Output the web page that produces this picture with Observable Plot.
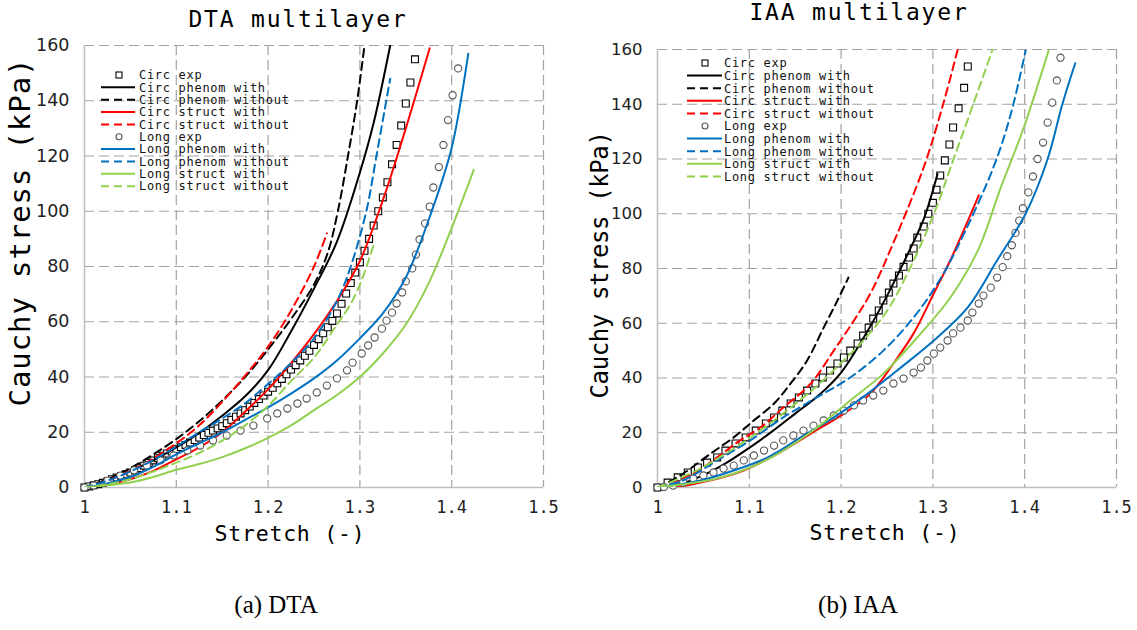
<!DOCTYPE html>
<html>
<head>
<meta charset="utf-8">
<script src="https://cdn.jsdelivr.net/npm/d3@7"></script>
<script src="https://cdn.jsdelivr.net/npm/@observablehq/plot@0.6"></script>
<style>
  html, body { margin: 0; padding: 0; background: #fff; }
  #page { position: relative; width: 1137px; height: 630px; overflow: hidden; background: #fff; }
  .panel { position: absolute; top: 0; }
  #overlay { position: absolute; left: 0; top: 0; pointer-events: none; }
</style>
</head>
<body>
<div id="page">
  <div id="left" class="panel" style="left:0px"></div>
  <div id="right" class="panel" style="left:570px"></div>
  <svg id="overlay" width="1137" height="630"></svg>
</div>
<script>
// ---------- ticks ----------
const xTicks = [1, 1.1, 1.2, 1.3, 1.4, 1.5];
const xTickLabels = ["1", "1.1", "1.2", "1.3", "1.4", "1.5"];
const yTicks = [0, 20, 40, 60, 80, 100, 120, 140, 160];

// ---------- series ----------
const seriesLabels = ["Circ exp", "Circ phenom with", "Circ phenom without", "Circ struct with", "Circ struct without",
                      "Long exp", "Long phenom with", "Long phenom without", "Long struct with", "Long struct without"];
const seriesKinds = ["square", "line", "line", "line", "line", "circle", "line", "line", "line", "line"];
const seriesColors = ["#000000", "#000000", "#000000", "#ff0000", "#ff0000", "#555555", "#0070c0", "#0070c0", "#92d050", "#92d050"];
const seriesDashed = [false, false, true, false, true, false, false, true, false, true];

// ---------- DTA data [stretch, stress kPa] ----------
const dtaCircExp = [[1.000,0],[1.005,0.4],[1.010,0.8],[1.015,1.2],[1.020,1.7],[1.025,2.3],[1.030,3.0],[1.035,3.6],[1.040,4.2],[1.045,4.8],[1.050,5.4],[1.055,6.2],[1.060,7.0],[1.065,7.9],[1.070,8.9],[1.075,9.8],[1.080,10.6],[1.085,11.5],[1.090,12.3],[1.095,13.0],[1.100,13.8],[1.105,14.6],[1.110,15.4],[1.115,16.3],[1.120,17.2],[1.125,18.1],[1.130,19.0],[1.135,19.8],[1.140,20.6],[1.145,21.4],[1.150,22.2],[1.155,23.3],[1.160,24.5],[1.165,25.6],[1.170,26.8],[1.175,28.0],[1.180,29.3],[1.185,30.6],[1.190,32.0],[1.195,33.3],[1.200,34.7],[1.205,36.1],[1.210,37.7],[1.215,39.3],[1.220,41.0],[1.225,42.7],[1.230,44.3],[1.235,46.0],[1.240,47.7],[1.245,49.5],[1.250,51.6],[1.255,53.7],[1.260,55.8],[1.265,58.0],[1.270,60.3],[1.275,63.0],[1.280,66.5],[1.285,70.2],[1.290,74.0],[1.295,77.8],[1.300,81.5],[1.305,85.7],[1.310,90.0],[1.315,94.8],[1.320,100.0],[1.325,105.0],[1.330,110.5],[1.335,117.0],[1.340,124.0],[1.345,131.0],[1.350,139.0],[1.355,146.6],[1.360,155.0]];
const dtaCircPhenomWith = [[1,0],[1.025,2.6],[1.05,5.9],[1.075,9.8],[1.1,14.5],[1.125,19.8],[1.15,26],[1.175,33],[1.2,42.5],[1.225,56.5],[1.25,72],[1.275,89],[1.3,114],[1.315,132],[1.333,160]];
const dtaCircPhenomWithout = [[1,0],[1.025,3],[1.05,7],[1.075,12],[1.1,17.5],[1.125,24],[1.15,31.5],[1.175,40],[1.2,50],[1.225,61],[1.25,73.5],[1.265,85],[1.276,100],[1.287,120],[1.297,140],[1.305,160]];
const dtaCircStructWith = [[1,0],[1.025,1.1],[1.05,3],[1.075,6],[1.1,10.2],[1.125,14.5],[1.15,20],[1.175,27.5],[1.2,35.5],[1.225,45],[1.25,55.5],[1.275,67.5],[1.3,82],[1.325,104],[1.35,130],[1.376,159]];
const dtaCircStructWithout = [[1,0],[1.025,2.5],[1.05,6],[1.075,10.5],[1.1,16],[1.125,22.5],[1.15,31],[1.175,40.5],[1.2,51],[1.225,64],[1.25,80],[1.264,92]];
const dtaLongExp = [[1.000,0],[1.010,0.7],[1.025,2.5],[1.039,4.3],[1.054,6.2],[1.068,8.0],[1.083,9.8],[1.097,11.6],[1.112,13.4],[1.126,15.2],[1.140,17.0],[1.155,18.8],[1.170,20.6],[1.184,22.4],[1.199,25.0],[1.210,26.8],[1.221,28.6],[1.232,30.4],[1.242,32.2],[1.253,34.4],[1.264,36.9],[1.275,39.5],[1.286,42.4],[1.292,45.2],[1.302,48.5],[1.309,51.4],[1.316,54.3],[1.324,57.5],[1.329,60.4],[1.335,63.3],[1.340,66.6],[1.346,70.6],[1.350,74.6],[1.357,79.3],[1.361,84.3],[1.365,89.8],[1.371,95.6],[1.376,101.7],[1.380,108.6],[1.386,116.0],[1.391,124.0],[1.396,133.0],[1.401,142.0],[1.407,151.7]];
const dtaLongPhenomWith = [[1,0],[1.025,1.5],[1.05,3.8],[1.075,7.5],[1.1,12],[1.125,16],[1.15,20],[1.175,24.5],[1.2,29],[1.225,34],[1.25,39.5],[1.275,46],[1.3,54],[1.325,63],[1.35,76],[1.375,97],[1.4,123],[1.418,157]];
const dtaLongPhenomWithout = [[1,0],[1.025,2.5],[1.05,5.8],[1.075,10],[1.1,14.8],[1.125,20],[1.15,25],[1.175,30.5],[1.2,37.5],[1.225,45],[1.25,54],[1.275,67.5],[1.29,80],[1.307,100],[1.318,120],[1.333,148]];
const dtaLongStructWith = [[1,0],[1.025,0.8],[1.05,1.8],[1.075,3.8],[1.1,6.4],[1.125,8.5],[1.15,11],[1.175,14.2],[1.2,18],[1.225,22.5],[1.25,28],[1.275,33.5],[1.3,40],[1.325,48.5],[1.35,59],[1.375,74],[1.4,94],[1.424,115]];
const dtaLongStructWithout = [[1,0],[1.025,1.2],[1.05,3],[1.075,5.8],[1.1,9],[1.125,12.5],[1.15,17],[1.175,22.5],[1.2,29.5],[1.225,38.5],[1.25,47],[1.275,59],[1.29,66.5],[1.303,76],[1.316,89]];

// ---------- IAA data [stretch, stress kPa] ----------
const iaaCircExp = [[1.0,0],[1.011,1.8],[1.022,3.7],[1.033,5.5],[1.044,7.3],[1.054,9.1],[1.065,11],[1.074,13.5],[1.085,16.1],[1.096,18.3],[1.107,20.8],[1.118,23.4],[1.127,25.6],[1.136,28.1],[1.145,30.7],[1.154,32.9],[1.163,35.4],[1.172,38],[1.18,40.2],[1.188,42.7],[1.196,45.3],[1.203,47.5],[1.21,50],[1.218,52.6],[1.224,55.5],[1.23,58.4],[1.235,61.7],[1.241,64.7],[1.246,68.3],[1.252,71.2],[1.257,74.5],[1.263,77.4],[1.268,80.6],[1.274,84],[1.279,87.3],[1.283,91.3],[1.29,95.3],[1.295,100],[1.3,104],[1.304,108.8],[1.308,114],[1.313,119.5],[1.318,125.3],[1.322,131.5],[1.328,138.5],[1.334,146],[1.338,153.8]];
const iaaCircPhenomWith = [[1,0],[1.025,1.3],[1.05,4.5],[1.075,9],[1.1,14.5],[1.125,20.5],[1.15,27],[1.175,33.5],[1.2,42],[1.225,55],[1.25,70],[1.275,87],[1.29,98],[1.305,114.5]];
const iaaCircPhenomWithout = [[1,0],[1.01,1.6],[1.028,5.1],[1.058,12.4],[1.083,18.3],[1.101,23.4],[1.127,30.7],[1.145,38],[1.163,46.4],[1.181,58.4],[1.196,68.3],[1.208,76.7]];
const iaaCircStructWith = [[1,0],[1.022,0.3],[1.058,2.6],[1.094,6.2],[1.131,12.4],[1.167,19.7],[1.203,27],[1.232,34.3],[1.257,45.3],[1.279,56.3],[1.301,70.9],[1.319,83],[1.35,106.7]];
const iaaCircStructWithout = [[1,0],[1.039,5.1],[1.065,11],[1.09,17.2],[1.112,21.9],[1.137,29.2],[1.167,38],[1.192,50],[1.214,61],[1.232,70.9],[1.252,85.5],[1.29,117],[1.312,141],[1.327,160]];
const iaaLongExp = [[1.0,0],[1.007,0.2],[1.017,0.7],[1.028,1.8],[1.039,3.3],[1.05,4.4],[1.061,5.5],[1.072,6.9],[1.083,8.0],[1.094,9.9],[1.105,11.7],[1.116,13.5],[1.127,15.3],[1.137,17.2],[1.148,19.0],[1.159,20.8],[1.17,22.6],[1.181,24.5],[1.192,26.3],[1.203,28.1],[1.214,30.0],[1.224,31.8],[1.235,33.6],[1.246,35.4],[1.257,38.0],[1.268,39.8],[1.279,42.0],[1.287,43.8],[1.294,46.4],[1.301,48.9],[1.308,51.1],[1.316,53.7],[1.322,56.3],[1.33,58.4],[1.338,61.0],[1.343,63.9],[1.35,67.2],[1.355,70.1],[1.363,73.0],[1.37,76.7],[1.376,80.5],[1.381,84.5],[1.386,88.5],[1.39,93],[1.394,97.5],[1.398,102],[1.404,107.8],[1.409,113.6],[1.414,120],[1.42,126],[1.425,133.3],[1.43,140.6],[1.435,148.7],[1.439,157]];
const iaaLongPhenomWith = [[1,0],[1.047,2.6],[1.083,6.2],[1.12,11],[1.156,18.3],[1.192,25.6],[1.229,34.3],[1.265,43.8],[1.301,53.7],[1.338,65.8],[1.37,83],[1.401,100],[1.425,120],[1.441,140],[1.455,155]];
const iaaLongPhenomWithout = [[1,0],[1.028,2.6],[1.065,9.9],[1.101,17.2],[1.137,25.6],[1.174,33],[1.21,40.2],[1.246,50],[1.279,62.1],[1.305,74.5],[1.325,86.6],[1.366,117],[1.385,136.6],[1.401,159.6]];
const iaaLongStructWith = [[1,0],[1.065,3.3],[1.101,7.3],[1.137,13.5],[1.174,21.9],[1.21,31.8],[1.246,41.6],[1.283,54.8],[1.319,69.4],[1.349,86.6],[1.374,109.6],[1.399,131.5],[1.426,159.6]];
const iaaLongStructWithout = [[1,0],[1.025,3.5],[1.05,7.5],[1.075,12.5],[1.1,18],[1.125,24],[1.15,30.5],[1.175,37.5],[1.2,45.5],[1.225,54],[1.25,64.5],[1.272,78],[1.3,99],[1.322,119.5],[1.345,141],[1.365,160]];

const dtaSeries = [dtaCircExp, dtaCircPhenomWith, dtaCircPhenomWithout, dtaCircStructWith, dtaCircStructWithout,
                   dtaLongExp, dtaLongPhenomWith, dtaLongPhenomWithout, dtaLongStructWith, dtaLongStructWithout];
const iaaSeries = [iaaCircExp, iaaCircPhenomWith, iaaCircPhenomWithout, iaaCircStructWith, iaaCircStructWithout,
                   iaaLongExp, iaaLongPhenomWith, iaaLongPhenomWithout, iaaLongStructWith, iaaLongStructWithout];

// ---------- panel builder ----------
const MONO = "DejaVu Sans Mono";
function panel(series, cfg) {
  const marks = [
    Plot.ruleX(xTicks.slice(1), {stroke: "#a3a3a3", strokeWidth: 1.2, strokeDasharray: "10,5"}),
    Plot.ruleY(yTicks.slice(1), {stroke: "#a3a3a3", strokeWidth: 1.2, strokeDasharray: "10,5"}),
    Plot.ruleX([xTicks[0]], {stroke: "#bdbdbd", strokeWidth: 1.5}),
    Plot.ruleY([yTicks[0]], {stroke: "#bdbdbd", strokeWidth: 1.5}),
    Plot.axisX(xTicks, {tickSize: 0, tickPadding: 13, fontFamily: MONO, fontSize: 17, fill: "#222",
      tickFormat: d => xTickLabels[xTicks.indexOf(d)], label: null}),
    Plot.axisY(yTicks, {tickSize: 0, tickPadding: 15, fontFamily: "DejaVu Sans", fontSize: cfg.yFont, fill: "#222", label: null})
  ];
  series.forEach((data, i) => {
    const kind = seriesKinds[i];
    if (kind === "line") {
      marks.push(Plot.line(data, {x: d => d[0], y: d => d[1], stroke: seriesColors[i], strokeWidth: 2,
        strokeDasharray: seriesDashed[i] ? "8,5" : null, curve: "catmull-rom", clip: true}));
    } else {
      marks.push(Plot.dot(data, {x: d => d[0], y: d => d[1], symbol: kind,
        r: kind === "square" ? 3.9 : 3.6, stroke: seriesColors[i], strokeWidth: 1.1, fill: "#fff"}));
    }
  });
  return Plot.plot({
    width: cfg.width, height: 560,
    marginLeft: cfg.ml, marginRight: cfg.mr, marginTop: cfg.mt, marginBottom: 73,
    x: {domain: [1, 1.5]},
    y: {domain: [0, 160]},
    style: {background: "transparent", overflow: "visible"},
    marks
  });
}

document.getElementById("left").appendChild(panel(dtaSeries, {width: 570, ml: 84, mr: 27, mt: 45, yFont: 17.5}));
document.getElementById("right").appendChild(panel(iaaSeries, {width: 567, ml: 87, mr: 21, mt: 49, yFont: 16.5}));

// ---------- overlay text: titles, axis labels, legends, captions ----------
const ns = "http://www.w3.org/2000/svg";
const ov = document.getElementById("overlay");
function el(tag, attrs, text) {
  const e = document.createElementNS(ns, tag);
  for (const k in attrs) e.setAttribute(k, attrs[k]);
  if (text != null) e.textContent = text;
  ov.appendChild(e);
  return e;
}
const titles = ["DTA multilayer", "IAA multilayer"];
const xLabel = "Stretch (-)";
const yLabel = "Cauchy stress (kPa)";
const captions = ["(a) DTA", "(b) IAA"];

const layout = [
  {tx: 298, ty: 27, xlx: 290, xly: 541, ylx: 30, yly: 232, ylFont: 29, ylLs: 0.9,
   lgY: 75, lgPitch: 12.35, swA: 101, swB: 135, mk: 119, txtX: 139, cx: 276},
  {tx: 859, ty: 20, xlx: 885, xly: 540, ylx: 608, yly: 265, ylFont: 24, ylLs: -0.4,
   lgY: 63, lgPitch: 12.6, swA: 687, swB: 722, mk: 705, txtX: 724, cx: 858}
];
layout.forEach((L, p) => {
  el("text", {x: L.tx, y: L.ty, "text-anchor": "middle", "font-family": MONO, "font-size": 23, "letter-spacing": 1.8, fill: "#000"}, titles[p]);
  el("text", {x: L.xlx, y: L.xly, "text-anchor": "middle", "font-family": MONO, "font-size": 21.5, "letter-spacing": 0.8, fill: "#000"}, xLabel);
  el("text", {transform: `translate(${L.ylx},${L.yly}) rotate(-90)`, "text-anchor": "middle", "font-family": MONO,
    "font-size": L.ylFont, "letter-spacing": L.ylLs, fill: "#000"}, yLabel);
  el("text", {x: L.cx, y: 613, "text-anchor": "middle", "font-family": "Liberation Serif", "font-size": 25, fill: "#000"}, captions[p]);
  seriesLabels.forEach((lab, i) => {
    const cy = L.lgY + i * L.lgPitch;
    const k = seriesKinds[i];
    if (k === "line") {
      el("line", {x1: L.swA, x2: L.swB, y1: cy, y2: cy, stroke: seriesColors[i], "stroke-width": 2,
        "stroke-dasharray": seriesDashed[i] ? "8,5" : "none"});
    } else if (k === "square") {
      el("rect", {x: L.mk - 3, y: cy - 3, width: 6, height: 6, fill: "#fff", stroke: seriesColors[i], "stroke-width": 1.1});
    } else {
      el("circle", {cx: L.mk, cy: cy, r: 3, fill: "#fff", stroke: seriesColors[i], "stroke-width": 1.1});
    }
    el("text", {x: L.txtX, y: cy + 4.3, "font-family": MONO, "font-size": 12, "letter-spacing": 0.7, fill: "#111"}, lab);
  });
});
</script>
</body>
</html>
